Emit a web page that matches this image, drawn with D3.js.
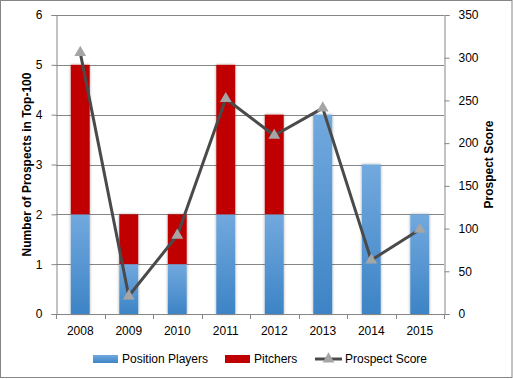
<!DOCTYPE html>
<html><head><meta charset="utf-8">
<script src="https://cdn.jsdelivr.net/npm/d3@7"></script>
<style>
body{margin:0;background:#fff;}
svg{display:block;font-family:"Liberation Sans",Arial,sans-serif;}
</style></head>
<body>
<script>
const years = ["2008","2009","2010","2011","2012","2013","2014","2015"];
const positionPlayers = [2,1,1,2,2,4,3,2];
const pitchers = [3,1,1,3,2,0,0,0];
const prospectScore = [306,21,92,252,209,241,63,99];
const leftTicks = [0,1,2,3,4,5,6];
const rightTicks = [0,50,100,150,200,250,300,350];

const W=513,H=379;
const m={l:56,r:69,t:15,b:65};
const svg=d3.select("body").append("svg").attr("width",W).attr("height",H);
const defs=svg.append("defs");
const g1=defs.append("linearGradient").attr("id","blue").attr("x1",0).attr("y1",0).attr("x2",0).attr("y2",1);
g1.append("stop").attr("offset","0%").attr("stop-color","#72a9de");
g1.append("stop").attr("offset","100%").attr("stop-color","#3d84c6");
const f=defs.append("filter").attr("id","sh").attr("x","-30%").attr("width","160%");
f.append("feGaussianBlur").attr("in","SourceAlpha").attr("stdDeviation",1.5).attr("result","b");
f.append("feOffset").attr("in","b").attr("dx",0).attr("dy",0).attr("result","o");
f.append("feComponentTransfer").attr("in","o").attr("result","o2").append("feFuncA").attr("type","linear").attr("slope",0.35);
const fm=f.append("feMerge");fm.append("feMergeNode").attr("in","o2");fm.append("feMergeNode").attr("in","SourceGraphic");

svg.append("rect").attr("x",0.5).attr("y",0.5).attr("width",W-1.5).attr("height",H-2).attr("fill","#fff").attr("stroke","#868686");

const x=d3.scaleBand().domain(years).range([m.l,W-m.r]).paddingInner(0.61).paddingOuter(0.305);
const xc=d3.scaleBand().domain(years).range([m.l,W-m.r]);
const yL=d3.scaleLinear().domain([0,6]).range([H-m.b,m.t]);
const yR=d3.scaleLinear().domain([0,350]).range([H-m.b,m.t]);

// gridlines
svg.append("g").selectAll("line").data(leftTicks.slice(1)).join("line")
 .attr("x1",m.l).attr("x2",W-m.r).attr("y1",d=>Math.round(yL(d))+0.5).attr("y2",d=>Math.round(yL(d))+0.5)
 .attr("stroke","#868686").attr("stroke-width",1);

// bars
const bars=svg.append("g").attr("filter","url(#sh)");
bars.selectAll(".pp").data(years).join("rect")
 .attr("x",d=>x(d)).attr("width",x.bandwidth())
 .attr("y",(d,i)=>yL(positionPlayers[i])).attr("height",(d,i)=>yL(0)-yL(positionPlayers[i]))
 .attr("fill","url(#blue)");
bars.selectAll(".pi").data(years).join("rect")
 .attr("x",d=>x(d)).attr("width",x.bandwidth())
 .attr("y",(d,i)=>yL(positionPlayers[i]+pitchers[i])).attr("height",(d,i)=>yL(0)-yL(pitchers[i]))
 .attr("fill","#c00000");

// axes
const axL=svg.append("g").attr("transform",`translate(${m.l+0.5},0)`)
 .call(d3.axisLeft(yL).tickValues(leftTicks).tickFormat(d3.format("d")).tickSize(5).tickPadding(9));
const axR=svg.append("g").attr("transform",`translate(${W-m.r+0.5},0)`)
 .call(d3.axisRight(yR).tickValues(rightTicks).tickSize(5).tickPadding(9));
const axB=svg.append("g").attr("transform",`translate(0,${yL(0)+0.5})`)
 .call(d3.axisBottom(xc).tickSize(0).tickPadding(12));
svg.append("g").selectAll("line").data(d3.range(years.length+1)).join("line")
 .attr("x1",i=>Math.round(m.l+i*xc.step())+0.5).attr("x2",i=>Math.round(m.l+i*xc.step())+0.5)
 .attr("y1",yL(0)).attr("y2",yL(0)+5).attr("stroke","#868686");
[axL,axR,axB].forEach(a=>{a.select(".domain").attr("stroke","#868686");a.selectAll(".tick line").attr("stroke","#868686");
 a.selectAll("text").attr("fill","#000").attr("font-size",12).attr("font-family","Liberation Sans, Arial, sans-serif");});
axB.select(".domain").attr("d",`M${m.l},0H${W-m.r}`);

// line
const line=d3.line().x((d,i)=>xc(years[i])+xc.bandwidth()/2).y(d=>yR(d));
svg.append("path").datum(prospectScore).attr("d",line).attr("fill","none").attr("stroke","#4a4a4a").attr("stroke-width",3).attr("stroke-linejoin","round");
const tri=d3.symbol().type(d3.symbolTriangle).size(60);
svg.append("g").selectAll("path").data(prospectScore).join("path")
 .attr("d",tri).attr("transform",(d,i)=>`translate(${xc(years[i])+xc.bandwidth()/2},${yR(d)})`)
 .attr("fill","#a5a5a5");

// titles
svg.append("text").attr("transform",`translate(31,${(m.t+H-m.b)/2}) rotate(-90)`).attr("text-anchor","middle")
 .attr("font-size",12).attr("font-weight","bold").text("Number of Prospects in Top-100");
svg.append("text").attr("transform",`translate(493,${(m.t+H-m.b)/2}) rotate(-90)`).attr("text-anchor","middle")
 .attr("font-size",12).attr("font-weight","bold").text("Prospect Score");

// legend
const ly=359;
const lg=svg.append("g").attr("font-size",12);
lg.append("rect").attr("x",93).attr("y",ly-4).attr("width",25).attr("height",8).attr("fill","url(#blue)");
lg.append("text").attr("x",122).attr("y",ly+4).text("Position Players");
lg.append("rect").attr("x",225).attr("y",ly-4).attr("width",25).attr("height",8).attr("fill","#c00000");
lg.append("text").attr("x",254).attr("y",ly+4).text("Pitchers");
lg.append("line").attr("x1",315).attr("x2",342).attr("y1",ly).attr("y2",ly).attr("stroke","#4a4a4a").attr("stroke-width",3);
lg.append("path").attr("d",tri).attr("transform",`translate(328.5,${ly})`).attr("fill","#a5a5a5");
lg.append("text").attr("x",345).attr("y",ly+4).text("Prospect Score");
</script>
</body></html>
